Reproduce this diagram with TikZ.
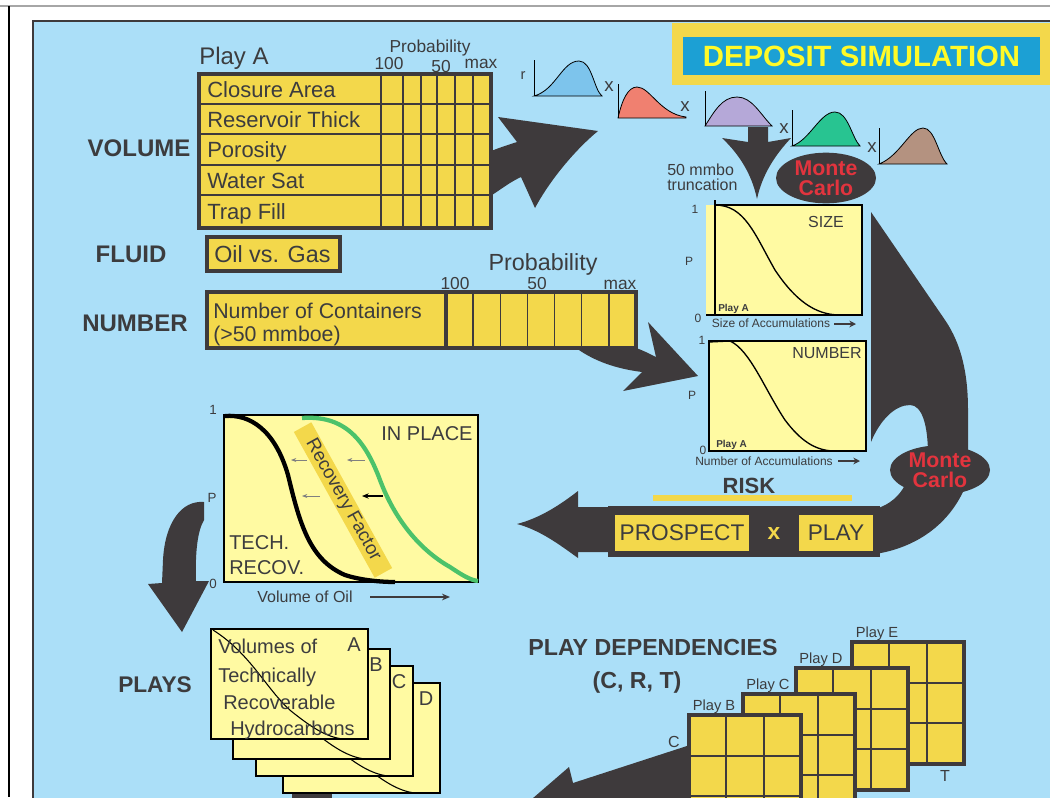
\documentclass[tikz,border=0pt]{standalone}
\usepackage{fontspec}
\setmainfont{Liberation Sans}
\usetikzlibrary{positioning,arrows.meta,shapes.geometric}

\definecolor{skyblue}{RGB}{171,223,248}
\definecolor{darkfill}{RGB}{62,58,60}
\definecolor{gold}{RGB}{243,216,75}
\definecolor{paleyellow}{RGB}{255,250,162}
\definecolor{titleblue}{RGB}{28,160,212}
\definecolor{titleyellow}{RGB}{255,250,40}
\definecolor{mcred}{RGB}{226,52,62}
\definecolor{txtgray}{RGB}{60,60,62}
\definecolor{curvegreen}{RGB}{76,194,106}
\definecolor{distblue}{RGB}{125,196,236}
\definecolor{distred}{RGB}{240,128,112}
\definecolor{distpurple}{RGB}{181,168,216}
\definecolor{distgreen}{RGB}{40,196,145}
\definecolor{distbrown}{RGB}{180,146,128}

\begin{document}
\begin{tikzpicture}[x=0.75pt, y=-0.75pt,
    every node/.style={inner sep=0pt, text=txtgray},
    heading/.style={anchor=base, font=\fontsize{18}{20}\selectfont\bfseries},
    rowtext/.style={anchor=base west, font=\fontsize{16.5}{18}\selectfont},
    smalltext/.style={anchor=base, font=\fontsize{13}{14}\selectfont},
    axistext/.style={anchor=base, font=\fontsize{9}{10}\selectfont},
    cardtext/.style={anchor=base west, font=\fontsize{15}{16}\selectfont},
    goldbox/.style={fill=gold, draw=darkfill, line width=2pt},
    paper/.style={fill=paleyellow, draw=black, line width=0.9pt},
    grid line/.style={draw=darkfill, line width=1pt},
    montecarlo/.style={ellipse, fill=darkfill, text=mcred, align=center,
        font=\fontsize{16}{15}\selectfont\bfseries,
        minimum width=75pt, minimum height=38pt},
    dist/.style={draw=black, line width=0.6pt},
    >=Stealth
  ]

  % page and panel
  \useasboundingbox (0,0) rectangle (1050,797);
  \fill[white] (0,0) rectangle (1050,797);
  \draw[gray!70, line width=0.8pt] (0,6) -- (1050,6);
  \draw[black, line width=0.8pt] (9,6) -- (9,797);
  \draw[fill=skyblue, draw=darkfill, line width=2.2pt] (33,21) rectangle (1080,830);

  % title
  \fill[gold] (672,23) rectangle (1050,85);
  \node[fill=titleblue, text=titleyellow, minimum width=268pt, minimum height=28.5pt,
    font=\fontsize{22}{24}\selectfont\bfseries] (title) at (861.5,56) {DEPOSIT SIMULATION};

  % volume table
  \node[anchor=base west, font=\fontsize{18}{20}\selectfont] (playA) at (199,64) {Play A};
  \node[smalltext] (probtop) at (430,52) {Probability};
  \node[smalltext] (hundredtop) at (389,69) {100};
  \node[smalltext] (fiftytop) at (441,72) {50};
  \node[smalltext] (maxtop) at (481,68) {max};
  \draw[goldbox, line width=2.4pt] (199,74) rectangle (491,228);
  \foreach \y in {104,134,165,195}
    \draw[grid line] (199,\y) -- (491,\y);
  \foreach \x in {403,421,437,455,473}
    \draw[grid line] (\x,74) -- (\x,228);
  \draw[darkfill, line width=2pt] (381,74) -- (381,228);
  \foreach \t/\y [count=\i] in {Closure Area/97, Reservoir Thick/127,
      Porosity/157, Water Sat/188, Trap Fill/219}
    \node[rowtext] (row\i) at (207,\y) {\t};
  \node[heading] (volume) at (139,156) {VOLUME};

  % fluid
  \node[heading] (fluid) at (131,262) {FLUID};
  \draw[goldbox, line width=2.4pt] (207,237) rectangle (340,271);
  \node[anchor=base west, font=\fontsize{17.5}{18}\selectfont] (oilgas) at (214,262) {Oil vs. Gas};

  % number
  \node[anchor=base, font=\fontsize{17.5}{18}\selectfont] (probmid) at (543,270) {Probability};
  \node[smalltext] (hundredmid) at (455,289) {100};
  \node[smalltext] (fiftymid) at (537,289) {50};
  \node[smalltext] (maxmid) at (620,289) {max};
  \draw[goldbox, line width=2.4pt] (207,292) rectangle (636,348);
  \foreach \i in {1,...,6}
    \draw[grid line] (446+27.14*\i,292) -- (446+27.14*\i,348);
  \draw[darkfill, line width=2.4pt] (446,292) -- (446,348);
  \node[anchor=base west, font=\fontsize{16}{17}\selectfont] (containers) at (213,318) {Number of Containers};
  \node[anchor=base west, font=\fontsize{16}{17}\selectfont] (mmboe) at (213,341) {(>50 mmboe)};
  \node[heading] (number) at (135,331) {NUMBER};

  % big arrows
  \fill[darkfill] (489,152) .. controls (498,148) and (508,145) .. (517,142) -- (498,117)
    -- (598,131) .. controls (575,150) and (550,180) .. (535,208) -- (521,177)
    .. controls (510,182) and (500,190) .. (489,197) -- cycle;
  \fill[darkfill] (748,127) -- (768,127) -- (768,142) -- (791,138)
    .. controls (775,155) and (762,175) .. (757,199)
    .. controls (752,175) and (740,155) .. (722,138) -- (748,142) -- cycle;
  \fill[darkfill] (576,348) .. controls (590,358) and (610,368) .. (642,372) -- (623,391)
    -- (698,376) -- (648,322) -- (656,357) .. controls (648,353) and (642,350) .. (636,348) -- cycle;

  % distributions
  \filldraw[fill=distblue, dist] (534,96) .. controls (556,90) and (562,61) .. (579,61)
    .. controls (592,61) and (594,90) .. (602,96) -- cycle;
  \filldraw[fill=distred, dist] (618,118) .. controls (622,100) and (628,87) .. (637,87)
    .. controls (650,87) and (660,114) .. (686,117) -- (686,118) -- cycle;
  \filldraw[fill=distpurple, dist] (705,126) .. controls (714,112) and (722,97) .. (737,97)
    .. controls (752,97) and (760,114) .. (772,126) -- cycle;
  \filldraw[fill=distgreen, dist] (792,146) .. controls (810,140) and (820,112) .. (835,112)
    .. controls (848,112) and (852,138) .. (860,146) -- cycle;
  \filldraw[fill=distbrown, dist] (879,164) .. controls (900,156) and (910,128) .. (923,128)
    .. controls (935,128) and (938,155) .. (947,164) -- cycle;
  \draw[dist] (534,60) -- (534,96);
  \draw[dist] (618,84) -- (618,118);
  \draw[dist] (705,91) -- (705,126);
  \draw[dist] (792,110) -- (792,146);
  \draw[dist] (879,128) -- (879,164);
  \node[anchor=base, font=\fontsize{11}{12}\selectfont] (rlabel) at (523,79) {r};
  \foreach \x/\y [count=\i] in {609/91, 685/111, 784/133, 872/152}
    \node[anchor=base, font=\fontsize{14}{14}\selectfont] (times\i) at (\x,\y) {x};

  \node[anchor=base west, font=\fontsize{12}{13}\selectfont] (mmbo) at (667,175) {50 mmbo};
  \node[anchor=base west, font=\fontsize{12}{13}\selectfont] (truncation) at (667,190) {truncation};
  \node[montecarlo] (mcone) at (826,178) {Monte\\Carlo};

  % size chart
  \fill[paleyellow] (706,205) rectangle (862,315);
  \draw[black, line width=1pt] (715,200) -- (715,315) (706,315) -- (862,315) -- (862,205) -- (715,205);
  \draw[black, line width=1pt] (715,205) .. controls (745,205) and (755,235) .. (775,270)
    .. controls (795,300) and (815,315) .. (840,315);
  \node[axistext] (sizeone) at (695,213) {1};
  \node[axistext] (sizep) at (689,265) {P};
  \node[axistext] (sizezero) at (698,322) {0};
  \node[anchor=base, font=\fontsize{12}{13}\selectfont] (sizetitle) at (826,227) {SIZE};
  \node[anchor=base west, font=\fontsize{7.5}{8}\selectfont\bfseries] (sizeplay) at (718,311) {Play A};
  \node[axistext] (sizeaxis) at (771,327) {Size of Accumulations};
  \draw[-{Stealth[length=5pt,width=5pt]}, darkfill, line width=2pt] (834,324) -- (856,324);

  % number chart
  \draw[paper] (709,341) rectangle (866,451);
  \draw[black, line width=1pt] (709,342) -- (730,341) .. controls (750,350) and (765,390) .. (785,420)
    .. controls (800,440) and (815,451) .. (835,451);
  \node[axistext] (numone) at (702,344) {1};
  \node[axistext] (nump) at (692,399) {P};
  \node[axistext] (numzero) at (703,454) {0};
  \node[anchor=base, font=\fontsize{12}{13}\selectfont] (numtitle) at (827,358) {NUMBER};
  \node[anchor=base west, font=\fontsize{7.5}{8}\selectfont\bfseries] (numplay) at (716,447) {Play A};
  \node[axistext] (numaxis) at (764,465) {Number of Accumulations};
  \draw[-{Stealth[length=5pt,width=5pt]}, darkfill, line width=2pt] (838,461) -- (860,461);

  % monte carlo swoosh and risk band
  \fill[darkfill] (871,212) -- (945,320) .. controls (962,345) and (968,375) .. (968,410)
    -- (968,455) -- (928,455) .. controls (928,425) and (922,405) .. (910,405)
    .. controls (895,405) and (880,420) .. (871,442) -- cycle;
  \fill[darkfill] (966,485) .. controls (950,525) and (915,548) .. (875,554) -- (875,509)
    .. controls (890,505) and (900,495) .. (905,485) -- cycle;
  \node[montecarlo, minimum height=37pt] (mctwo) at (940,470) {Monte\\Carlo};
  \fill[darkfill] (608,506) rectangle (880,557);
  \fill[darkfill] (612,507) -- (578,507) -- (578,491) .. controls (560,505) and (540,518) .. (517,524)
    .. controls (540,530) and (560,545) .. (578,558) -- (578,552) -- (612,552) -- cycle;
  \node[goldbox, minimum width=103pt, minimum height=29pt,
    font=\fontsize{17}{18}\selectfont] (prospect) at (682,532.5) {PROSPECT};
  \node[goldbox, minimum width=58pt, minimum height=29pt,
    font=\fontsize{17}{18}\selectfont] (play) at (836,532.5) {PLAY};
  \node[text=gold, font=\fontsize{17}{18}\selectfont\bfseries] (times) at (774,534) {x};
  \draw[gold, line width=4.5pt] (653,498) -- (852,498);
  \node[anchor=base, font=\fontsize{16.5}{18}\selectfont\bfseries] (risk) at (749,493) {RISK};

  % in place chart
  \draw[fill=paleyellow, draw=black, line width=2pt] (224,415) rectangle (478,582);
  \draw[-{Stealth[length=4pt,width=3pt]}, gray, line width=0.5pt] (307,460) -- (291,460);
  \draw[-{Stealth[length=4pt,width=3pt]}, gray, line width=0.5pt] (365,460) -- (347,460);
  \draw[-{Stealth[length=4pt,width=3pt]}, gray, line width=0.5pt] (320,496) -- (302,496);
  \draw[-{Stealth[length=5pt,width=4pt]}, black, line width=0.8pt] (383,496) -- (362,496);
  \draw[black, line width=3.2pt] (225,416) .. controls (250,414) and (275,430) .. (288,475)
    .. controls (300,525) and (310,560) .. (345,575) .. controls (360,580) and (380,582) .. (395,582);
  \draw[curvegreen, line width=3.2pt] (302,418) .. controls (345,415) and (365,440) .. (380,480)
    .. controls (395,520) and (420,550) .. (450,567) .. controls (462,575) and (470,580) .. (478,581);
  \node[fill=gold, rotate=-61, minimum width=125pt, minimum height=15pt,
    font=\fontsize{14}{14}\selectfont] (recovery) at (343,500) {Recovery Factor};
  \node[anchor=base, font=\fontsize{15}{16}\selectfont] (inplace) at (427,440) {IN PLACE};
  \node[anchor=base west, font=\fontsize{15}{16}\selectfont] (tech) at (229,549) {TECH.};
  \node[anchor=base west, font=\fontsize{15}{16}\selectfont] (recov) at (229,574) {RECOV.};
  \node[anchor=base, font=\fontsize{10}{11}\selectfont] (ipone) at (213,414) {1};
  \node[anchor=base, font=\fontsize{10}{11}\selectfont] (ipp) at (212,502) {P};
  \node[anchor=base, font=\fontsize{10}{11}\selectfont] (ipzero) at (213,588) {0};
  \node[anchor=base, font=\fontsize{12}{13}\selectfont] (volaxis) at (305,602) {Volume of Oil};
  \draw[-{Stealth[length=6pt,width=5pt]}, darkfill, line width=1.8pt] (370,597) -- (450,597);

  % down arrow to plays
  \fill[darkfill] (204,502) .. controls (182,500) and (165,522) .. (163,560) -- (162,583)
    -- (148,584) -- (182,632) -- (209,581) -- (196,581)
    .. controls (195,550) and (198,530) .. (204,520) -- cycle;

  % plays cards
  \node[heading, font=\fontsize{17}{18}\selectfont\bfseries] (plays) at (155,692) {PLAYS};
  \fill[darkfill] (292,790) rectangle (332,805);
  \foreach \cx/\cy/\nm in {283/683/D, 256/666/C, 233/649/B, 211/629/A} {
    \draw[paper] (\cx,\cy) rectangle ++(157,110);
    \draw[black, line width=0.8pt] (\cx+2,\cy+1) .. controls (\cx+40,\cy+25) and (\cx+55,\cy+60)
      .. (\cx+80,\cy+82) .. controls (\cx+100,\cy+98) and (\cx+115,\cy+108) .. (\cx+132,\cy+110);
    \node[anchor=base, font=\fontsize{15}{16}\selectfont] (card\nm) at (\cx+143,\cy+22) {\nm};
  }
  \node[cardtext] (cardline1) at (218,653) {Volumes of};
  \node[cardtext] (cardline2) at (218,682) {Technically};
  \node[cardtext] (cardline3) at (223,709) {Recoverable};
  \node[cardtext] (cardline4) at (230,735) {Hydrocarbons};

  % play dependencies
  \node[anchor=base, font=\fontsize{17.4}{18}\selectfont\bfseries] (depend) at (653,655) {PLAY DEPENDENCIES};
  \node[anchor=base, font=\fontsize{17.4}{18}\selectfont\bfseries] (crt) at (637,688) {(C, R, T)};
  \fill[darkfill] (690,745) -- (573,783) -- (569,767) -- (525,805) -- (690,805) -- cycle;
  \foreach \gx/\gy/\nm in {852/642/E, 796/668/D, 743/694/C, 689/715/B} {
    \draw[goldbox, line width=3pt] (\gx,\gy) rectangle ++(112,122);
    \draw[grid line, line width=1.5pt] (\gx+37.3,\gy) -- ++(0,122) (\gx+74.7,\gy) -- ++(0,122)
      (\gx,\gy+40.7) -- ++(112,0) (\gx,\gy+81.3) -- ++(112,0);
    \node[anchor=base, font=\fontsize{11}{12}\selectfont] (play\nm) at (\gx+25,\gy-5) {Play \nm};
  }
  \node[anchor=base, font=\fontsize{12}{13}\selectfont] (clabel) at (674,747) {C};
  \node[anchor=base, font=\fontsize{12}{13}\selectfont] (tlabel) at (945,781) {T};

\end{tikzpicture}
\end{document}
